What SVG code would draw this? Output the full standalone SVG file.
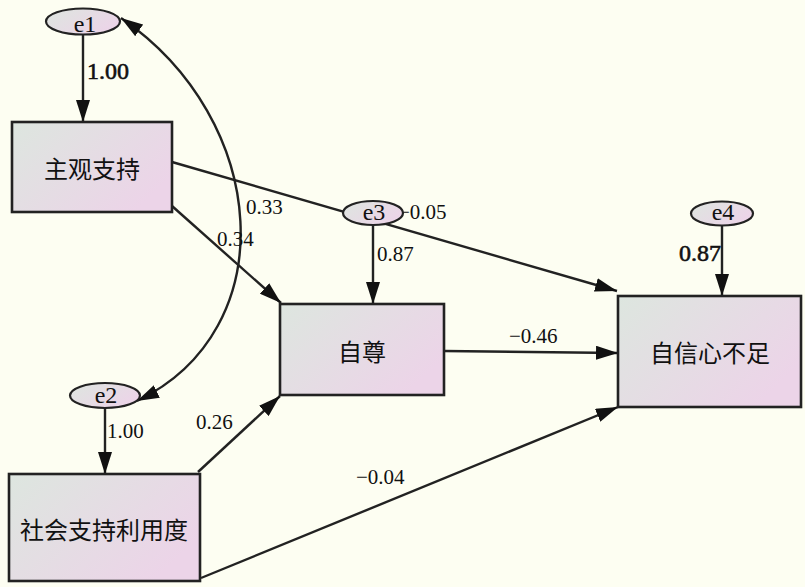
<svg xmlns="http://www.w3.org/2000/svg" width="805" height="587" viewBox="0 0 805 587">
<style>
.box{stroke:#222;stroke-width:2.6;fill:url(#g)}
.ell{stroke:#222;stroke-width:2.2;fill:url(#g)}
.ln{stroke:#222;stroke-width:2.4;fill:none}
.zh{font-family:"Noto Sans CJK SC","Noto Sans",sans-serif;font-size:24px;fill:#111;text-anchor:middle}
.el{font-family:"Liberation Serif",serif;font-size:24px;fill:#111;text-anchor:middle}
.lb{font-family:"Liberation Serif",serif;font-size:21px;fill:#111}
.lbb{font-family:"Liberation Serif",serif;font-size:24px;fill:#111;stroke:#111;stroke-width:0.6}
</style>
<defs>
<linearGradient id="g" x1="0" y1="0" x2="1" y2="0.6">
<stop offset="0" stop-color="#dde6df"/>
<stop offset="1" stop-color="#ecd4e8"/>
</linearGradient>
<marker id="ah" markerUnits="userSpaceOnUse" markerWidth="22" markerHeight="14" refX="22" refY="7" orient="auto-start-reverse">
<path d="M0,0 L22,7 L0,14 z" fill="#111"/>
</marker>
</defs>
<rect width="805" height="587" fill="#fdfef2"/>
<g id="connectors">
<line class="ln" x1="83" y1="35" x2="83" y2="122" marker-end="url(#ah)"/>
<line class="ln" x1="105" y1="408" x2="105" y2="474" marker-end="url(#ah)"/>
<line class="ln" x1="373" y1="225" x2="373" y2="304" marker-end="url(#ah)"/>
<line class="ln" x1="722" y1="225" x2="722" y2="296" marker-end="url(#ah)"/>
<line class="ln" x1="172" y1="162" x2="617" y2="291" marker-end="url(#ah)"/>
<line class="ln" x1="172" y1="206" x2="281" y2="303" marker-end="url(#ah)"/>
<line class="ln" x1="444" y1="351" x2="618" y2="353" marker-end="url(#ah)"/>
<line class="ln" x1="198" y1="472" x2="280" y2="396" marker-end="url(#ah)"/>
<line class="ln" x1="201" y1="578" x2="618" y2="407" marker-end="url(#ah)"/>
<path class="ln" d="M121 18 C270 120, 285 330, 137 401" marker-start="url(#ah)" marker-end="url(#ah)"/>
<text class="lbb" x="87" y="79">1.00</text>
<text class="lb" x="246" y="214">0.33</text>
<text class="lb" x="217" y="246">0.34</text>
<text class="lb" x="398" y="219">−0.05</text>
<text class="lb" x="377" y="261">0.87</text>
<text class="lbb" x="679" y="261">0.87</text>
<text class="lb" x="509" y="343">−0.46</text>
<text class="lb" x="107" y="438">1.00</text>
<text class="lb" x="196" y="429">0.26</text>
<text class="lb" x="356" y="484">−0.04</text>
</g>
<g id="e1"><ellipse class="ell" cx="83" cy="21.5" rx="37" ry="13"/><text class="el" x="85" y="32">e1</text></g>
<g id="e2"><ellipse class="ell" cx="105" cy="395.5" rx="35" ry="12.5"/><text class="el" x="106" y="403">e2</text></g>
<g id="e3"><ellipse class="ell" cx="373" cy="213" rx="30" ry="12"/><text class="el" x="374" y="220">e3</text></g>
<g id="e4"><ellipse class="ell" cx="722" cy="213.5" rx="31" ry="12"/><text class="el" x="723" y="220">e4</text></g>
<g id="n1"><rect class="box" x="12" y="122" width="160" height="90"/><text class="zh" x="92" y="178">主观支持</text></g>
<g id="n2"><rect class="box" x="280" y="304" width="164" height="91"/><text class="zh" x="362" y="361">自尊</text></g>
<g id="n3"><rect class="box" x="618" y="296" width="183" height="111"/><text class="zh" x="710" y="362">自信心不足</text></g>
<g id="n4"><rect class="box" x="9" y="474" width="191" height="107"/><text class="zh" x="104" y="539">社会支持利用度</text></g>
</svg>
